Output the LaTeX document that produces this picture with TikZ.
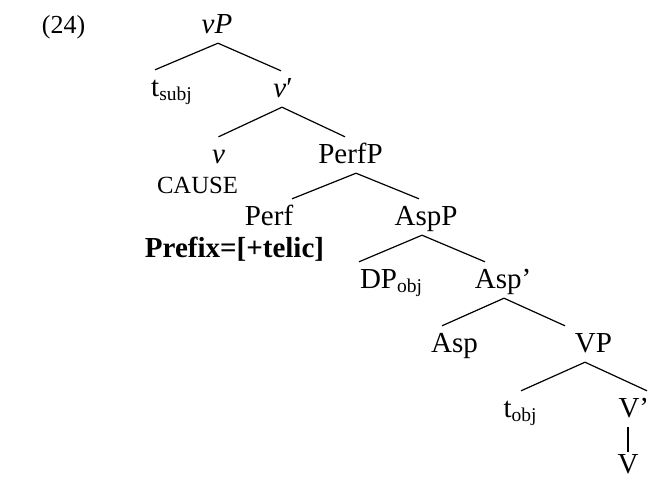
\documentclass[tikz,border=0pt]{standalone}
\usepackage{fontspec}
\setmainfont{Liberation Serif}
\newcommand{\sbs}[1]{\raisebox{-4.5pt}{\fontsize{19.5}{20}\selectfont #1}}
\begin{document}
\begin{tikzpicture}[x=1pt,y=-1pt,
  tn/.style={inner sep=0pt, anchor=base, text height=26pt, text depth=10pt, font=\fontsize{29}{34}\selectfont},
  br/.style={line width=1.2pt}]
\useasboundingbox (0,0) rectangle (650,479);
\node[anchor=base, inner sep=0pt, font=\fontsize{26}{30}\selectfont] (ex) at (63.5,33) {(24)};
\node[tn] (vP) at (217,33) {\textit{vP}};
\node[tn] (tsubj) at (171.5,96) {t\sbs{subj}};
\node[tn] (vbar) at (283,97) {\textit{v}′};
\node[tn] (v) at (218.5,163) {\textit{v}};
\node[anchor=base, inner sep=0pt, font=\fontsize{24.7}{28}\selectfont] (cause) at (197.5,193) {CAUSE};
\node[tn] (PerfP) at (350.5,163) {PerfP};
\node[tn] (Perf) at (269,225) {Perf};
\node[anchor=base, inner sep=0pt, font=\fontsize{29}{34}\selectfont\bfseries] (prefix) at (234.5,257) {Prefix=[+telic]};
\node[tn] (AspP) at (426,225) {AspP};
\node[tn] (DP) at (391,288) {DP\sbs{obj}};
\node[tn] (Aspbar) at (503,288) {Asp’};
\node[tn] (Asp) at (454.5,352) {Asp};
\node[tn] (VP) at (593.5,352) {VP};
\node[tn] (tobj) at (520,417) {t\sbs{obj}};
\node[tn] (Vbar) at (629,417) {V\rlap{’}};
\node[tn, text height=21pt, text depth=0pt] (V) at (628,473) {V};
\draw[br] ([xshift=1pt]vP.south) -- ([xshift=-16.5pt]tsubj.north);
\draw[br] ([xshift=1pt]vP.south) -- ([xshift=-2pt]vbar.north);
\draw[br] ([xshift=-1pt]vbar.south) -- (v.north);
\draw[br] ([xshift=-1pt]vbar.south) -- ([xshift=-5.5pt]PerfP.north);
\draw[br] ([xshift=5.5pt]PerfP.south) -- ([xshift=23pt]Perf.north);
\draw[br] ([xshift=5.5pt]PerfP.south) -- ([xshift=-7pt]AspP.north);
\draw[br] ([xshift=-4pt]AspP.south) -- ([xshift=-32pt]DP.north);
\draw[br] ([xshift=-4pt]AspP.south) -- ([xshift=-18pt]Aspbar.north);
\draw[br] ([xshift=1pt]Aspbar.south) -- ([xshift=-12.5pt]Asp.north);
\draw[br] ([xshift=1pt]Aspbar.south) -- ([xshift=-28.5pt]VP.north);
\draw[br] ([xshift=-8.5pt]VP.south) -- ([xshift=1pt]tobj.north);
\draw[br] ([xshift=-8.5pt]VP.south) -- ([xshift=18pt]Vbar.north);
\draw[br] ([xshift=-1pt]Vbar.south) -- (V.north);
\end{tikzpicture}
\end{document}
